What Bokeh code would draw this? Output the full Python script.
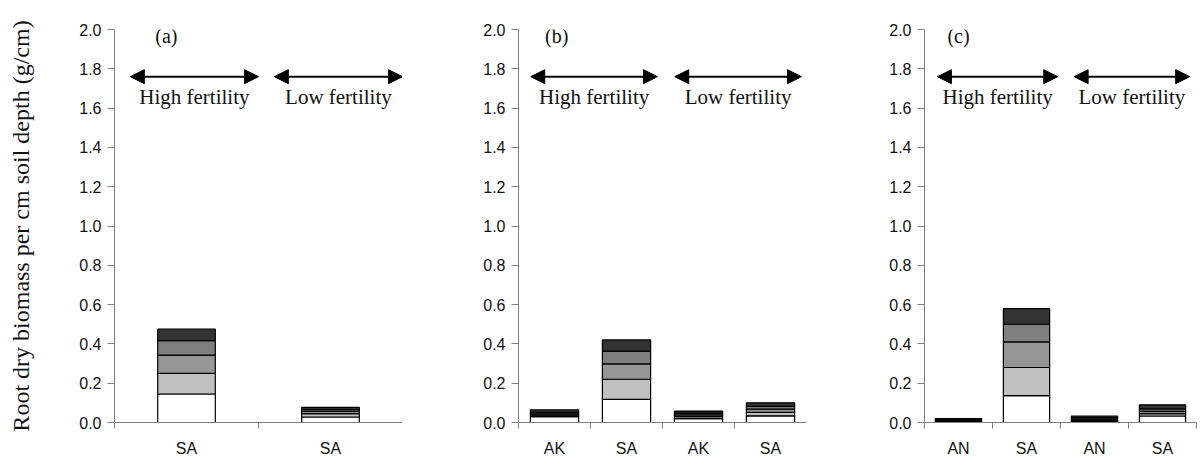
from bokeh.plotting import figure
from bokeh.layouts import row
from bokeh.models import (Range1d, FixedTicker, PrintfTickFormatter, Label, Arrow,
                          NormalHead, ColumnDataSource, CustomJSTickFormatter)
from bokeh.embed import file_html
from bokeh.resources import INLINE

# ---------------- data ----------------
layer_names = ["l1", "l2", "l3", "l4", "l5"]
layer_colors = ["#ffffff", "#c0c0c0", "#969696", "#7f7f7f", "#333333"]
y_ticks = [0.0, 0.2, 0.4, 0.6, 0.8, 1.0, 1.2, 1.4, 1.6, 1.8, 2.0]

cats_a = ["SA", "SA"]
a_l1 = [0.145, 0.028]
a_l2 = [0.105, 0.017]
a_l3 = [0.093, 0.011]
a_l4 = [0.073, 0.010]
a_l5 = [0.059, 0.011]

cats_b = ["AK", "SA", "AK", "SA"]
b_l1 = [0.030, 0.118, 0.020, 0.034]
b_l2 = [0.007, 0.102, 0.010, 0.018]
b_l3 = [0.007, 0.078, 0.009, 0.016]
b_l4 = [0.008, 0.065, 0.009, 0.014]
b_l5 = [0.013, 0.057, 0.010, 0.018]

cats_c = ["AN", "SA", "AN", "SA"]
c_l1 = [0.003, 0.137, 0.005, 0.033]
c_l2 = [0.003, 0.143, 0.005, 0.012]
c_l3 = [0.003, 0.130, 0.007, 0.012]
c_l4 = [0.003, 0.090, 0.008, 0.012]
c_l5 = [0.008, 0.080, 0.008, 0.021]

group_labels = ["High fertility", "Low fertility"]
panel_tags = ["(a)", "(b)", "(c)"]
y_title = "Root dry biomass per cm soil depth (g/cm)"

AX = "#808080"


def make_panel(cats, layers, tag, tag_x, arrows, bar_w, left, frame_w, right):
    n = len(cats)
    p = figure(frame_width=frame_w, frame_height=393,
               min_border_left=left, min_border_right=right,
               min_border_top=29, min_border_bottom=44,
               x_range=Range1d(0, n), y_range=Range1d(0, 2.0),
               output_backend="svg", toolbar_location=None)
    p.outline_line_color = None
    p.grid.visible = False
    p.background_fill_color = "white"

    data = {"x": [i + 0.5 for i in range(n)]}
    for name, vals in zip(layer_names, layers):
        data[name] = vals
    src = ColumnDataSource(data)
    p.vbar_stack(layer_names, x="x", width=bar_w, color=layer_colors,
                 line_color="black", line_width=1.2, source=src)

    # x axis
    xa = p.xaxis[0]
    xa.ticker = FixedTicker(ticks=[i + 0.5 for i in range(n)],
                            minor_ticks=list(range(n + 1)))
    xa.formatter = CustomJSTickFormatter(args={"labels": cats},
                                         code="return labels[Math.floor(tick)];")
    xa.major_tick_out = 0
    xa.major_tick_in = 0
    xa.minor_tick_out = 6
    xa.minor_tick_in = 0
    xa.major_label_standoff = 11

    # y axis
    ya = p.yaxis[0]
    ya.ticker = FixedTicker(ticks=y_ticks, minor_ticks=[])
    ya.formatter = PrintfTickFormatter(format="%.1f")
    ya.major_tick_out = 7
    ya.major_tick_in = 0
    ya.minor_tick_out = 0
    ya.major_label_standoff = 6

    for ax in (xa, ya):
        ax.axis_line_color = AX
        ax.major_tick_line_color = AX
        ax.minor_tick_line_color = AX
        ax.major_label_text_font = "Liberation Sans"
        ax.major_label_text_font_size = "16px"
        ax.major_label_text_color = "#111111"

    p.add_layout(Label(x=tag_x, y=1.965, text=tag, text_font="Liberation Serif",
                       text_font_size="20px", text_align="center",
                       text_baseline="middle", text_color="#111111"))
    for (x0, x1), lab in zip(arrows, group_labels):
        p.add_layout(Arrow(start=NormalHead(size=14, fill_color="black", line_color="black"),
                           end=NormalHead(size=14, fill_color="black", line_color="black"),
                           x_start=x0, y_start=1.76, x_end=x1, y_end=1.76,
                           line_color="black", line_width=2))
        p.add_layout(Label(x=(x0 + x1) / 2, y=1.655, text=lab,
                           text_font="Liberation Serif", text_font_size="21px",
                           text_align="center", text_baseline="middle",
                           text_color="#111111"))
    return p


# narrow strip whose (tickless) y axis carries the vertical title
p0 = figure(width=40, height=466, min_border_top=0, min_border_bottom=44,
            min_border_left=33, min_border_right=0,
            x_range=Range1d(0, 1), y_range=Range1d(0, 1),
            x_axis_location=None,
            output_backend="svg", toolbar_location=None)
p0.outline_line_color = None
p0.grid.visible = False
ya0 = p0.yaxis[0]
ya0.ticker = FixedTicker(ticks=[], minor_ticks=[])
ya0.axis_line_color = None
ya0.major_tick_line_color = None
ya0.minor_tick_line_color = None
ya0.major_label_standoff = 0
ya0.major_tick_out = 0
ya0.minor_tick_out = 0
ya0.axis_label = y_title
ya0.axis_label_standoff = 0
ya0.axis_label_text_font = "Liberation Serif"
ya0.axis_label_text_font_size = "24px"
ya0.axis_label_text_font_style = "normal"
ya0.axis_label_text_color = "#111111"

pa = make_panel(cats_a, [a_l1, a_l2, a_l3, a_l4, a_l5], panel_tags[0], 0.36,
                [(0.11, 1.0), (1.11, 2.0)], 0.4, 74, 288, 0)
pb = make_panel(cats_b, [b_l1, b_l2, b_l3, b_l4, b_l5], panel_tags[1], 0.53,
                [(0.17, 1.93), (2.17, 3.93)], 0.67, 116, 288, 0)
pc = make_panel(cats_c, [c_l1, c_l2, c_l3, c_l4, c_l5], panel_tags[2], 0.5,
                [(0.19, 1.96), (2.2, 3.9)], 0.68, 118, 272, 8)

layout = row(p0, pa, pb, pc)
open("out.html", "w").write(file_html(layout, INLINE))
